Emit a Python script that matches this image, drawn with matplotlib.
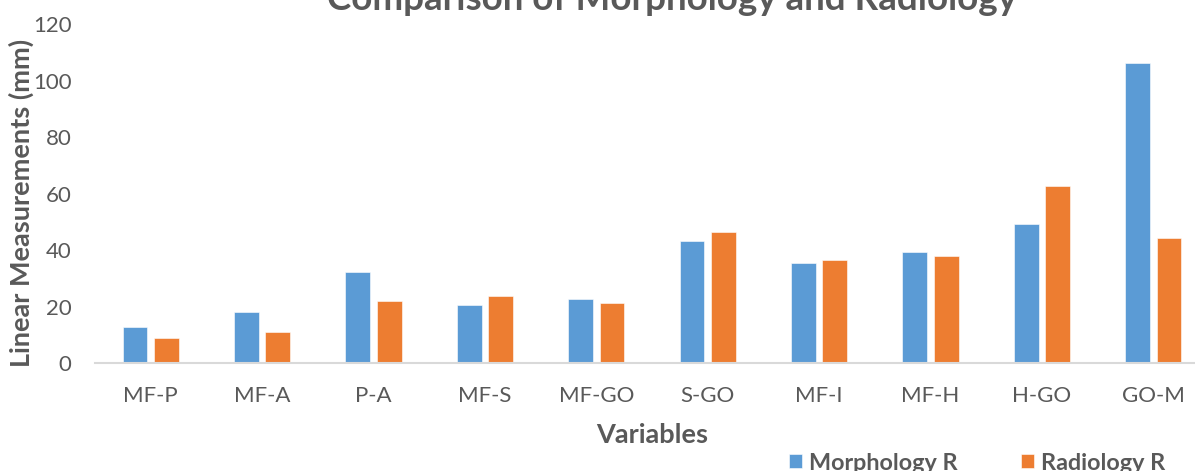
import matplotlib.pyplot as plt
import numpy as np

# categories and series (mm)
variables = ['MF-P', 'MF-A', 'P-A', 'MF-S', 'MF-GO', 'S-GO', 'MF-I', 'MF-H', 'H-GO', 'GO-M']
morphology_r = [13.0, 18.1, 32.3, 20.5, 22.6, 43.2, 35.4, 39.5, 49.5, 106.5]
radiology_r = [8.9, 11.0, 22.1, 23.7, 21.2, 46.5, 36.7, 38.1, 62.9, 44.4]
y_ticks = [0, 20, 40, 60, 80, 100, 120]

blue = '#5B9BD5'
orange = '#ED7D31'
grey = '#595959'

plt.rcParams['font.family'] = ['Lato', 'DejaVu Sans']

W, H = 1195, 471
fig = plt.figure(figsize=(W / 100, H / 100), dpi=100)
# plot area runs past the right edge, like the cropped original
ax = fig.add_axes([95 / W, 1 - 363.3 / H, 1114 / W, (363.3 - 24.5) / H])

x = np.arange(len(variables))
bw = 0.221
off = 0.141
b1 = ax.bar(x - off, morphology_r, bw, color=blue, edgecolor='white', linewidth=0.4, label='Morphology R')
b2 = ax.bar(x + off, radiology_r, bw, color=orange, edgecolor='white', linewidth=0.4, label='Radiology R')

ax.set_xlim(-0.5, len(variables) - 0.5)
ax.set_ylim(0, 120)
ax.set_yticks(y_ticks)
ax.set_xticks(x)
ax.set_xticklabels(variables)

for s in ['top', 'right', 'left']:
    ax.spines[s].set_visible(False)
ax.spines['bottom'].set_color('#D9D9D9')
ax.spines['bottom'].set_linewidth(1.5)
ax.tick_params(axis='both', length=0, labelsize=16, colors=grey)
ax.tick_params(axis='y', pad=17)
ax.tick_params(axis='x', pad=16)

fig.text(672 / W, 1 - 10 / H, 'Comparison of Morphology and Radiology', ha='center', va='baseline',
         fontsize=26.5, fontweight='bold', color=grey)
fig.text(21 / W, 1 - 203 / H, 'Linear Measurements (mm)', ha='center', va='center', rotation=90,
         fontsize=19.5, fontweight='bold', color=grey)
fig.text(652 / W, 1 - 435 / H, 'Variables', ha='center', va='center',
         fontsize=19.5, fontweight='bold', color=grey)

fig.legend(handles=[b1, b2], loc='center', bbox_to_anchor=(977 / W, 1 - 463 / H), ncol=2, frameon=False,
           prop={'weight': 'bold', 'size': 16.8}, labelcolor=grey, handlelength=0.56, handleheight=0.56,
           handletextpad=0.3, columnspacing=2.7, borderpad=0)

fig.savefig('out.png', dpi=100)
